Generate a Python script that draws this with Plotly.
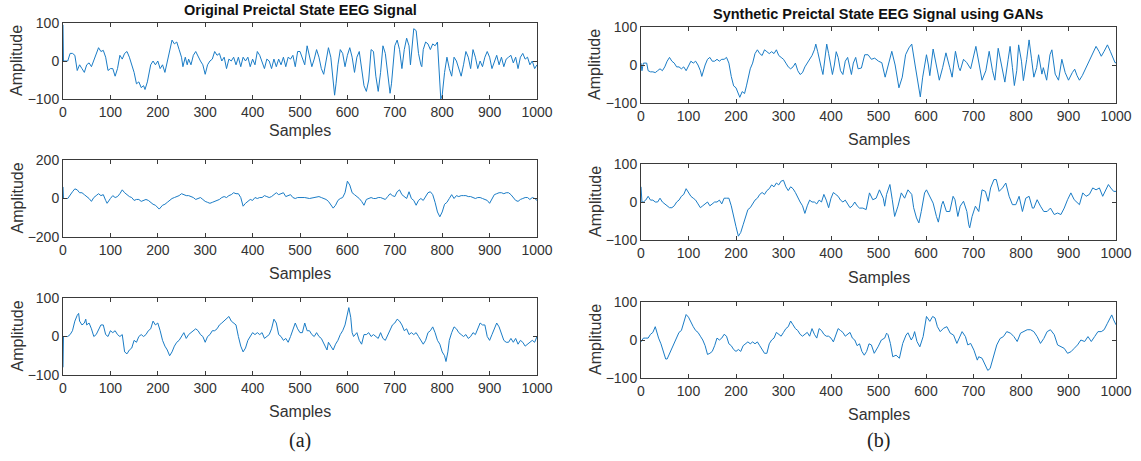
import plotly.graph_objects as go

W, H = 1141, 461

# ---------------- data (sample index, amplitude) ----------------
orig1 = [(0,95),(1,0),(10,0),(15,20),(20,20),(25,15),(30,-25),(35,-10),(40,-20),(45,-30),(50,-10),(55,-5),(60,-15),(65,0),(70,15),(75,35),(80,25),(85,28),(90,10),(95,-25),(100,-20),(105,-20),(110,-40),(115,-20),(120,15),(125,5),(130,20),(135,25),(140,10),(145,-10),(150,-30),(155,-60),(160,-55),(165,-70),(170,-65),(173,-75),(178,-55),(185,-10),(190,0),(195,-10),(200,0),(205,-20),(210,-10),(215,-30),(220,0),(225,30),(230,55),(235,45),(240,50),(245,30),(250,10),(253,-15),(258,10),(262,-10),(265,5),(270,-10),(275,15),(280,25),(285,10),(290,0),(295,-10),(300,-35),(305,-10),(310,0),(315,5),(320,25),(325,15),(330,20),(335,0),(340,10),(345,-20),(350,5),(355,0),(360,10),(365,-10),(370,10),(375,-15),(380,10),(385,0),(390,10),(395,-15),(400,5),(405,-10),(410,25),(415,15),(420,0),(425,-20),(430,5),(435,0),(440,-20),(445,5),(450,-15),(455,5),(460,-10),(465,10),(470,-15),(475,10),(480,5),(485,15),(490,-15),(495,25),(500,25),(505,10),(510,-10),(515,40),(520,15),(525,-15),(530,5),(535,30),(540,10),(545,-20),(550,-35),(555,0),(560,35),(565,10),(570,-60),(573,-90),(576,-60),(580,-10),(585,30),(590,20),(595,-15),(600,15),(605,35),(610,10),(615,-30),(620,10),(625,25),(630,-20),(635,-65),(640,-80),(645,-50),(650,30),(655,25),(660,-40),(665,-80),(670,-30),(675,40),(680,20),(685,-30),(690,-85),(693,-60),(697,0),(700,40),(705,55),(710,30),(715,-20),(720,30),(725,60),(730,40),(733,-10),(737,60),(740,85),(745,80),(750,20),(755,-10),(757,-15),(760,30),(765,50),(770,45),(775,30),(780,45),(785,40),(790,50),(793,-30),(797,-100),(800,-90),(805,-30),(810,10),(815,-20),(820,-40),(825,10),(830,0),(835,-20),(840,-40),(845,-10),(850,25),(855,10),(860,-20),(865,30),(870,10),(875,-20),(880,0),(885,-15),(890,10),(895,25),(900,10),(905,-20),(910,-5),(915,15),(920,-10),(925,10),(930,-15),(935,5),(940,10),(945,15),(950,-5),(955,10),(960,-20),(965,10),(970,20),(975,5),(980,10),(985,-10),(990,0),(995,-20),(1000,-10)]

orig2 = [(0,60),(1,0),(10,0),(15,20),(20,35),(25,50),(30,45),(35,30),(40,30),(45,20),(50,10),(55,0),(60,-15),(65,5),(70,15),(75,25),(80,15),(85,20),(90,-10),(93,-25),(100,0),(105,15),(110,5),(115,10),(120,25),(125,45),(130,30),(135,20),(140,10),(145,5),(150,-10),(155,-5),(160,-5),(165,-15),(170,-10),(175,-5),(180,-10),(185,-20),(190,-30),(195,-35),(200,-45),(203,-55),(210,-35),(215,-30),(220,-20),(225,-10),(230,0),(235,5),(240,10),(245,15),(250,25),(255,20),(260,15),(265,15),(270,10),(275,5),(280,-5),(285,0),(290,5),(295,-5),(300,-15),(305,-20),(310,-25),(315,-20),(320,-15),(325,-10),(330,-5),(335,5),(340,10),(345,5),(350,15),(355,20),(360,30),(365,25),(370,25),(375,5),(380,-40),(385,-25),(390,-15),(395,-5),(400,-10),(405,5),(410,0),(415,5),(420,5),(425,15),(430,10),(435,5),(440,10),(445,20),(450,30),(455,20),(460,25),(465,30),(470,10),(475,15),(480,20),(485,5),(490,0),(495,5),(500,5),(510,5),(520,0),(530,5),(540,10),(545,5),(550,0),(555,-5),(560,-15),(565,-30),(570,-50),(575,-35),(580,-10),(585,0),(590,5),(595,30),(600,90),(605,70),(610,30),(615,20),(620,10),(625,0),(630,-15),(635,-35),(640,-5),(645,0),(650,5),(655,0),(660,0),(665,5),(670,5),(675,0),(680,-5),(685,10),(690,25),(695,15),(700,10),(705,35),(710,45),(715,20),(720,10),(725,0),(730,35),(735,0),(740,-10),(745,-35),(750,-10),(755,0),(760,-10),(765,10),(770,30),(775,35),(780,20),(785,-20),(790,-70),(795,-95),(800,-70),(805,-30),(810,-20),(815,0),(820,20),(825,0),(830,15),(835,10),(840,15),(845,15),(850,15),(855,10),(860,10),(865,5),(870,0),(875,5),(880,5),(885,0),(890,-5),(895,-10),(900,-25),(905,0),(910,20),(915,25),(920,30),(925,30),(930,25),(935,30),(940,30),(945,20),(950,5),(955,-10),(960,-15),(965,-5),(970,0),(975,5),(980,5),(985,-5),(990,5),(995,0),(1000,-10)]

orig3 = [(0,-80),(1,0),(10,0),(15,5),(20,15),(25,40),(30,55),(33,60),(35,40),(40,30),(45,35),(48,45),(50,30),(55,35),(60,20),(65,0),(70,5),(75,20),(80,30),(85,30),(90,5),(95,0),(100,15),(105,10),(110,15),(115,5),(120,0),(125,5),(130,-40),(135,-45),(140,-35),(145,-30),(150,-10),(155,-15),(160,0),(165,5),(170,0),(175,5),(180,15),(185,20),(190,40),(195,30),(200,35),(205,15),(210,-10),(215,-25),(220,-35),(225,-50),(230,-40),(235,-25),(240,-15),(245,-10),(250,0),(255,10),(260,-5),(265,5),(270,10),(275,15),(280,20),(285,15),(290,5),(295,0),(300,-15),(305,0),(310,5),(315,15),(320,15),(325,20),(330,30),(335,35),(340,40),(345,45),(350,52),(355,40),(360,35),(365,30),(370,0),(375,-25),(380,-40),(385,-30),(390,-10),(395,0),(400,10),(405,5),(410,10),(415,5),(420,10),(425,-5),(430,0),(435,5),(440,20),(445,45),(450,35),(455,5),(460,0),(465,-10),(470,-5),(475,-15),(480,0),(485,15),(490,35),(495,20),(500,10),(505,10),(510,35),(515,15),(520,15),(525,5),(530,0),(535,10),(540,0),(545,-5),(550,-20),(553,-25),(557,-35),(560,-15),(565,-25),(570,-35),(575,-20),(580,-10),(585,5),(590,15),(595,30),(600,65),(603,75),(607,50),(610,10),(613,0),(620,10),(625,-10),(630,-20),(635,5),(640,5),(645,10),(650,0),(655,5),(660,0),(665,-5),(670,10),(675,-5),(680,-10),(685,5),(690,20),(695,30),(700,35),(705,45),(710,40),(715,30),(720,15),(725,20),(730,5),(735,10),(740,5),(745,10),(750,0),(755,-10),(760,-20),(765,-10),(770,10),(775,15),(780,25),(785,10),(790,-10),(795,-20),(800,-40),(805,-50),(808,-65),(812,-40),(815,-10),(820,10),(825,25),(830,20),(835,10),(840,5),(845,0),(850,5),(855,-5),(860,0),(865,10),(870,5),(875,20),(880,35),(885,30),(890,30),(895,0),(900,-10),(905,5),(910,20),(915,35),(920,25),(925,10),(930,-10),(935,-15),(940,-15),(945,-5),(950,-15),(955,-5),(960,-20),(965,-10),(970,-15),(975,-25),(980,-20),(985,-15),(990,-10),(995,-15),(1000,0)]

syn1 = [(0,5),(2,-15),(5,5),(12,5),(15,-15),(20,-18),(25,-18),(30,-20),(35,-15),(40,-10),(45,-15),(50,-5),(55,10),(60,20),(65,10),(70,5),(75,-5),(80,-5),(85,-10),(90,-5),(95,-15),(100,0),(105,10),(110,5),(115,10),(120,0),(125,-15),(128,-30),(130,-20),(135,0),(140,15),(145,20),(150,10),(155,10),(160,15),(165,10),(170,15),(175,15),(180,20),(185,5),(190,-30),(195,-55),(200,-60),(205,-75),(208,-85),(213,-70),(218,-75),(222,-55),(225,-40),(230,-10),(235,5),(240,30),(245,40),(250,30),(255,25),(260,40),(265,35),(270,30),(275,35),(280,30),(285,40),(290,25),(295,20),(300,15),(305,5),(310,-5),(315,-10),(320,-5),(325,5),(330,-15),(335,-25),(340,-20),(345,-5),(350,5),(355,15),(360,25),(365,40),(368,55),(372,35),(375,15),(380,-10),(383,-25),(387,10),(391,55),(395,30),(400,-10),(403,-25),(407,0),(411,35),(415,20),(420,-15),(425,-25),(430,10),(435,20),(440,-5),(443,-25),(447,5),(452,20),(457,-10),(464,-8),(471,27),(478,27),(485,15),(492,18),(500,10),(507,6),(514,-32),(521,0),(528,36),(535,0),(543,-60),(550,-32),(557,27),(564,45),(570,55),(577,0),(585,-58),(588,-84),(593,-32),(601,27),(605,0),(608,-28),(615,42),(622,0),(628,-40),(635,-7),(642,32),(650,-7),(655,-32),(662,36),(669,-7),(672,-15),(679,15),(686,6),(694,-10),(705,49),(712,6),(718,-40),(726,-15),(733,36),(740,-15),(745,-40),(752,44),(759,0),(766,-45),(773,15),(777,49),(782,-7),(786,-54),(791,-15),(795,53),(801,10),(805,-41),(812,15),(817,66),(822,18),(827,-32),(833,-7),(837,27),(844,-24),(847,-7),(854,-40),(861,27),(865,40),(872,-24),(879,-40),(886,15),(893,-20),(900,-40),(908,-20),(913,-11),(918,-28),(923,-40),(929,-28),(939,0),(946,15),(953,36),(958,49),(964,36),(969,23),(975,36),(982,53),(988,36),(993,23),(998,6),(1000,6)]

syn2 = [(0,40),(2,0),(5,0),(10,5),(15,15),(20,5),(25,5),(30,0),(35,0),(40,10),(45,0),(50,-5),(55,-10),(60,-15),(65,-15),(70,-10),(75,0),(80,5),(85,15),(90,20),(95,35),(100,25),(105,15),(110,10),(115,5),(120,-5),(125,-15),(130,-10),(135,-5),(140,0),(145,-10),(150,-5),(155,0),(160,0),(165,5),(170,-5),(175,10),(180,10),(185,10),(190,-10),(195,-40),(200,-65),(205,-90),(210,-80),(215,-60),(220,-40),(225,-20),(230,-15),(235,-5),(240,5),(245,10),(250,20),(255,25),(260,20),(265,30),(270,35),(275,45),(280,40),(285,50),(290,45),(295,55),(300,57),(305,40),(310,30),(315,40),(320,35),(325,25),(330,10),(335,0),(340,-10),(345,-30),(350,-10),(355,5),(360,0),(365,0),(370,-5),(375,5),(380,0),(385,20),(390,5),(395,-15),(400,10),(405,25),(410,20),(415,15),(420,5),(425,0),(430,5),(435,-5),(440,-15),(445,-10),(450,0),(455,-10),(460,-16),(467,-16),(474,-20),(481,24),(488,6),(495,10),(502,32),(510,10),(513,-11),(517,20),(524,46),(529,6),(534,-38),(541,-11),(548,24),(555,10),(562,32),(570,20),(574,-15),(580,-42),(585,-55),(590,-25),(597,24),(601,32),(608,15),(615,-3),(622,-38),(626,-53),(633,-7),(636,2),(643,-25),(650,-25),(657,15),(661,6),(667,-38),(672,-11),(679,2),(686,-25),(690,-60),(692,-68),(697,-38),(704,-11),(711,-25),(718,32),(725,28),(731,2),(736,37),(743,59),(748,59),(754,28),(761,37),(768,50),(775,15),(782,-7),(789,-7),(796,15),(803,-25),(810,10),(817,15),(824,-16),(827,-16),(834,6),(841,-11),(848,-25),(855,-25),(862,-16),(870,-33),(877,-29),(884,-33),(891,-16),(898,6),(905,24),(912,6),(923,-7),(930,24),(937,15),(944,20),(951,37),(958,32),(965,37),(972,15),(979,32),(984,46),(989,37),(995,28),(1000,28)]

syn3 = [(0,-5),(5,5),(10,5),(15,5),(20,15),(25,20),(30,35),(33,20),(37,5),(42,-10),(47,-30),(52,-50),(55,-50),(60,-35),(65,-25),(70,-5),(75,10),(80,20),(85,25),(90,50),(95,67),(100,60),(105,45),(110,35),(115,25),(120,20),(125,10),(130,0),(135,-15),(140,-38),(145,-35),(150,-30),(155,-15),(160,5),(165,0),(170,5),(175,15),(180,10),(185,-10),(190,-15),(195,-25),(200,-30),(205,-25),(210,-30),(215,-15),(220,-10),(225,-5),(230,-10),(235,-5),(240,-10),(245,-5),(250,-15),(255,-25),(260,-35),(265,-35),(270,-10),(275,0),(280,5),(285,20),(290,15),(295,10),(300,20),(305,30),(310,35),(315,50),(320,40),(325,30),(330,25),(335,15),(340,10),(345,15),(350,20),(355,10),(360,30),(365,15),(370,5),(375,30),(380,25),(385,15),(390,10),(395,10),(400,5),(405,-5),(410,15),(415,30),(420,25),(425,20),(430,10),(435,15),(440,20),(445,5),(450,0),(455,-15),(460,-10),(465,-30),(470,-40),(475,-30),(480,-10),(485,-13),(491,-35),(499,-18),(506,0),(513,5),(517,18),(520,14),(525,-9),(530,-44),(537,-40),(544,-48),(551,-9),(558,13),(562,19),(569,0),(573,9),(576,22),(581,-4),(587,-18),(594,9),(601,62),(608,49),(614,62),(619,58),(624,35),(630,22),(637,31),(644,35),(651,18),(658,13),(665,-9),(672,13),(676,22),(683,9),(688,-13),(694,-9),(701,-27),(708,-53),(711,-44),(718,-48),(725,-66),(730,-80),(735,-75),(742,-44),(749,-13),(756,4),(763,9),(770,22),(778,18),(785,9),(792,-4),(799,18),(806,22),(813,27),(820,27),(827,22),(834,9),(841,-9),(848,4),(855,22),(862,27),(870,14),(877,-13),(884,-18),(891,-22),(898,-35),(905,-31),(912,-22),(919,-13),(926,0),(934,-4),(941,9),(948,-4),(955,9),(962,22),(969,22),(975,27),(982,44),(988,62),(991,66),(995,53),(1000,40)]

x_ticks = [0, 100, 200, 300, 400, 500, 600, 700, 800, 900, 1000]
y_ticks_100 = [-100, 0, 100]
y_ticks_200 = [-200, 0, 200]

titles = ["Original Preictal State EEG Signal", "Synthetic Preictal State EEG Signal using GANs"]
x_title = "Samples"
y_title = "Amplitude"
sub_labels = ["(a)", "(b)"]

# ---------------- layout (pixel boxes) ----------------
# (series, left, right, top, bottom, yticks, x-title offset)
panels = [
    (orig1, 63, 537, 23, 99, y_ticks_100, 31),
    (orig2, 63, 537, 160, 237, y_ticks_200, 36),
    (orig3, 63, 537, 298, 375, y_ticks_100, 36),
    (syn1, 641, 1116, 27, 103, y_ticks_100, 37),
    (syn2, 641, 1116, 164, 240, y_ticks_100, 37),
    (syn3, 641, 1116, 302, 378, y_ticks_100, 36),
]

LINE = "#1a7cc6"
AX = "#3a3a3a"
TXT = "#333333"
FONT = "Liberation Sans, Arial, sans-serif"

fig = go.Figure()
layout = dict(
    width=W, height=H, margin=dict(l=0, r=0, t=0, b=0),
    paper_bgcolor="white", plot_bgcolor="white", showlegend=False,
    font=dict(family=FONT, color=TXT, size=14),
)
annotations = []

for i, (ser, l, r, t, b, yt, off) in enumerate(panels, start=1):
    xs = [p[0] for p in ser]
    ys = [p[1] for p in ser]
    xa = "x" if i == 1 else f"x{i}"
    ya = "y" if i == 1 else f"y{i}"
    fig.add_trace(go.Scatter(x=xs, y=ys, mode="lines", xaxis=xa, yaxis=ya,
                             line=dict(color=LINE, width=1), hoverinfo="skip"))
    common = dict(showline=True, linecolor=AX, linewidth=1, mirror="ticks",
                  ticks="inside", ticklen=4, tickcolor=AX, showgrid=False,
                  zeroline=False, tickfont=dict(family=FONT, size=14, color=TXT))
    layout["xaxis" if i == 1 else f"xaxis{i}"] = dict(
        domain=[l / W, r / W], range=[0, 1000], tickvals=x_ticks,
        anchor=ya, automargin=False, **common)
    layout["yaxis" if i == 1 else f"yaxis{i}"] = dict(
        domain=[1 - b / H, 1 - t / H], range=[yt[0], yt[-1]], tickvals=yt,
        anchor=xa, automargin=False, **common)
    cx = (l + r) / 2
    annotations.append(dict(text=x_title, x=cx / W, y=1 - (b + off) / H,
                            xref="paper", yref="paper", showarrow=False,
                            xanchor="center", yanchor="middle",
                            font=dict(family=FONT, size=16, color=TXT)))
    annotations.append(dict(text=y_title, x=(l - 46) / W, y=1 - ((t + b) / 2) / H,
                            xref="paper", yref="paper", showarrow=False, textangle=-90,
                            xanchor="center", yanchor="middle",
                            font=dict(family=FONT, size=16, color=TXT)))

annotations.append(dict(text="<b>" + titles[0] + "</b>", x=300 / W, y=1 - 10 / H,
                        xref="paper", yref="paper", showarrow=False,
                        xanchor="center", yanchor="middle",
                        font=dict(family=FONT, size=14.5, color="#111")))
annotations.append(dict(text="<b>" + titles[1] + "</b>", x=878 / W, y=1 - 14 / H,
                        xref="paper", yref="paper", showarrow=False,
                        xanchor="center", yanchor="middle",
                        font=dict(family=FONT, size=14.5, color="#111")))
annotations.append(dict(text=sub_labels[0], x=300 / W, y=1 - 440 / H,
                        xref="paper", yref="paper", showarrow=False,
                        xanchor="center", yanchor="middle",
                        font=dict(family="Liberation Serif, Times New Roman, serif", size=20, color="#222")))
annotations.append(dict(text=sub_labels[1], x=878 / W, y=1 - 440 / H,
                        xref="paper", yref="paper", showarrow=False,
                        xanchor="center", yanchor="middle",
                        font=dict(family="Liberation Serif, Times New Roman, serif", size=20, color="#222")))
layout["annotations"] = annotations
fig.update_layout(**layout)
fig.write_html("out.html")
